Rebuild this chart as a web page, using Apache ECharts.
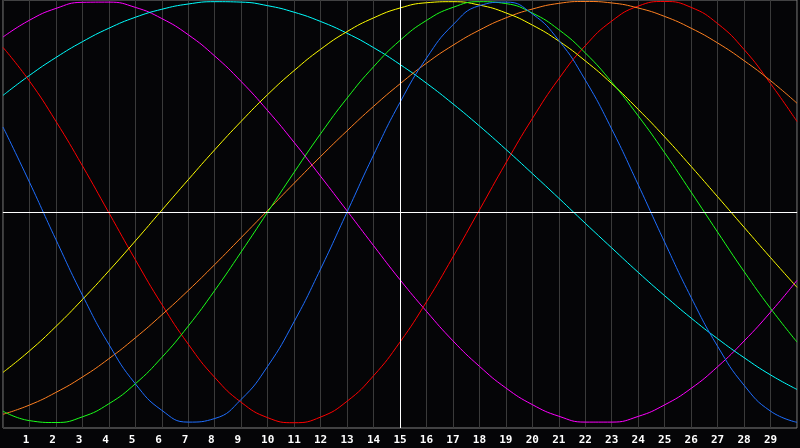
<!DOCTYPE html>
<html>
<head>
<meta charset="utf-8">
<style>
  html, body { margin: 0; padding: 0; background: #050507; }
  #chart { width: 800px; height: 448px; }
</style>
<script src="https://cdn.jsdelivr.net/npm/echarts@6/dist/echarts.min.js"></script>
</head>
<body>
<div id="chart"></div>
<script>
// x positions of the samples
const xs = [0, 1, 2, 3, 4, 5, 6, 7, 8, 9, 10, 11, 12, 13, 14, 15,
  16, 17, 18, 19, 20, 21, 22, 23, 24, 25, 26, 27, 28, 29, 30]

// values, one array per curve
const magenta = [0.831, 0.911, 0.967, 0.996, 0.997, 0.972, 0.919, 0.842, 0.741, 0.620, 0.482, 0.331, 0.170, 0.006, -0.159, -0.321,
  -0.471, -0.611, -0.732, -0.835, -0.914, -0.969, -0.997, -0.997, -0.970, -0.915, -0.837, -0.734, -0.612, -0.475, -0.324]
const cyan = [0.554, 0.649, 0.734, 0.809, 0.873, 0.925, 0.963, 0.988, 0.999, 0.997, 0.980, 0.949, 0.905, 0.849, 0.781, 0.701,
  0.612, 0.514, 0.409, 0.298, 0.183, 0.066, -0.053, -0.170, -0.286, -0.397, -0.503, -0.601, -0.691, -0.773, -0.842]
const red = [0.782, 0.622, 0.431, 0.220, -0.003, -0.226, -0.438, -0.627, -0.785, -0.903, -0.976, -1.000, -0.973, -0.898, -0.777, -0.617,
  -0.426, -0.213, 0.010, 0.233, 0.444, 0.633, 0.790, 0.907, 0.978, 1.000, 0.972, 0.895, 0.772, 0.610, 0.430]
const blue = [0.404, 0.142, -0.131, -0.394, -0.628, -0.815, -0.941, -0.997, -0.980, -0.889, -0.732, -0.520, -0.270, 0.000, 0.271, 0.521,
  0.731, 0.889, 0.980, 0.997, 0.941, 0.815, 0.627, 0.394, 0.130, -0.143, -0.405, -0.637, -0.822, -0.945, -0.998]
const green = [-0.945, -0.990, -0.999, -0.972, -0.910, -0.815, -0.690, -0.541, -0.372, -0.189, 0.000, 0.189, 0.372, 0.541, 0.690, 0.815,
  0.910, 0.972, 0.999, 0.990, 0.945, 0.866, 0.756, 0.617, 0.457, 0.282, 0.095, -0.095, -0.282, -0.457, -0.617]
const yellow = [-0.761, -0.659, -0.543, -0.415, -0.279, -0.137, 0.009, 0.154, 0.296, 0.431, 0.558, 0.672, 0.773, 0.857, 0.922, 0.969,
  0.994, 0.999, 0.983, 0.946, 0.888, 0.812, 0.718, 0.610, 0.488, 0.357, 0.217, 0.073, -0.072, -0.216, -0.357]
const orange = [-0.960, -0.916, -0.856, -0.783, -0.696, -0.597, -0.488, -0.372, -0.249, -0.121, 0.008, 0.137, 0.264, 0.386, 0.502, 0.609,
  0.707, 0.792, 0.864, 0.922, 0.964, 0.991, 1.000, 0.993, 0.969, 0.929, 0.873, 0.803, 0.719, 0.624, 0.517]

const curves = [
  { name: 'magenta', data: magenta, color: '#ff00ff' },
  { name: 'cyan', data: cyan, color: '#00ffff' },
  { name: 'red', data: red, color: '#ff0000' },
  { name: 'orange', data: orange, color: '#ff8020' },
  { name: 'yellow', data: yellow, color: '#ffff00' },
  { name: 'green', data: green, color: '#1aff1a' },
  { name: 'blue', data: blue, color: '#1e6eff' }
]

const chart = echarts.init(document.getElementById('chart'))

let series = curves.map(c => ({
  name: c.name,
  type: 'line',
  smooth: true,
  showSymbol: false,
  silent: true,
  lineStyle: { color: c.color, width: 1 },
  data: xs.map((x, i) => [x, c.data[i]])
}))

// white cross lines at x = 15 and y = 0
series[0].markLine = {
  silent: true,
  symbol: 'none',
  label: { show: false },
  lineStyle: { color: '#ffffff', width: 1, type: 'solid' },
  data: [{ xAxis: 15 }, { yAxis: 0 }]
}

chart.setOption({
  animation: false,
  backgroundColor: '#050507',
  grid: {
    left: 0,
    right: 1,
    top: 0,
    bottom: 20,
    show: true,
    borderColor: '#808080',
    borderWidth: 1
  },
  xAxis: {
    type: 'value',
    min: 0,
    max: 30,
    interval: 1,
    axisLine: { lineStyle: { color: '#808080' } },
    axisTick: { show: false },
    splitLine: { show: true, lineStyle: { color: '#3a3a3a', width: 1 } },
    axisLabel: {
      margin: 7,
      color: '#ffffff',
      fontFamily: 'DejaVu Sans Mono',
      fontWeight: 'bold',
      fontSize: 11,
      // labels sit a little left of their grid line, single digits padded
      formatter: v => (v >= 1 && v <= 29) ? (v < 10 ? v + ' ' : '' + v) : ''
    }
  },
  yAxis: {
    type: 'value',
    min: -1.025,
    max: 1.007,
    show: false,
    splitLine: { show: false }
  },
  series: series
})
</script>
</body>
</html>
